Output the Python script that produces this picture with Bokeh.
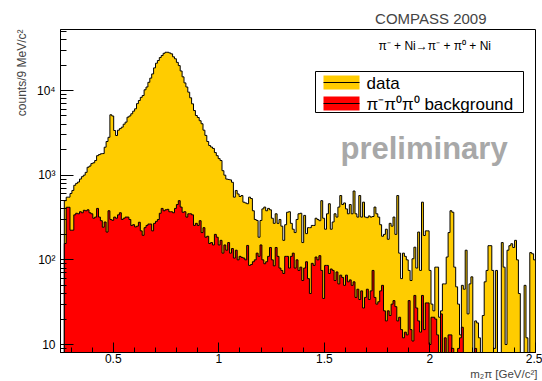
import numpy as np
from bokeh.plotting import figure
from bokeh.models import Label, FixedTicker, BoxAnnotation, Title
from bokeh.embed import file_html
from bokeh.resources import INLINE

# ---------------- data ----------------
bin_lo = 0.25
bin_width = 0.009  # 9 MeV bins, 250 bins from 0.25 to 2.5 GeV

data_counts = [0, 0,
    500, 550, 550, 608, 660, 760, 800, 830, 900, 960,
    1000, 1080, 1240, 1280, 1370, 1400, 1490, 1700, 1750, 1790,
    1800, 2140, 2500, 2800, 5170, 5000, 3370, 2940, 3400, 3550,
    3690, 4000, 4230, 4840, 5000, 5310, 5700, 6080, 7000, 7620,
    8300, 8730, 10200, 11000, 12500, 14000, 15700, 18500, 21000, 22600,
    24500, 25900, 27500, 28300, 28300, 27800, 27100, 25000, 23700, 21500,
    19700, 17000, 14500, 12300, 11000, 9560, 8200, 6960, 5800, 5070,
    4800, 4400, 4050, 3400, 2950, 2500, 2240, 2150, 2070, 1850,
    1700, 1570, 1490, 1130, 1000, 900, 890, 880, 825, 550,
    660, 600, 560, 575, 480, 470, 460, 550, 530, 380,
    300, 292, 185, 292, 400, 420, 380, 405, 390, 310,
    270, 350, 270, 300, 250, 170, 260, 365, 370, 270,
    230, 210, 300, 350, 355, 160, 335, 204, 240, 240,
    255, 255, 310, 300, 290, 500, 310, 230, 350, 460,
    230, 280, 350, 320, 420, 575, 450, 470, 400, 350,
    450, 350, 650, 350, 320, 575, 320, 480, 320, 315,
    330, 320, 325, 420, 350, 320, 260, 190, 200, 230,
    175, 270, 250, 320, 200, 575, 120, 60, 120, 110,
    100, 75, 57, 103, 141, 80, 213, 75, 480, 194,
    220, 220, 75, 30, 25, 82, 82, 21, 25, 52,
    52, 108, 210, 380, 365, 82, 48, 30, 13, 50,
    45, 130, 23, 52, 63, 0, 19, 18, 12, 0,
    22, 55, 75, 147, 147, 75, 9, 75, 0, 0,
    160, 82, 10, 130, 147, 155, 140, 170, 100, 40,
    0, 0, 50, 12, 0, 122, 118, 100]

bkg_counts = [0, 0,
    156, 418, 418, 224, 224, 340, 355, 350, 370, 360,
    385, 380, 390, 360, 350, 310, 320, 405, 320, 290,
    243, 280, 213, 380, 300, 293, 320, 310, 340, 360,
    300, 310, 320, 320, 300, 255, 260, 245, 250, 278,
    220, 195, 240, 255, 265, 265, 220, 270, 285, 300,
    355, 405, 380, 390, 395, 370, 370, 360, 405, 450,
    500, 420, 365, 370, 320, 350, 350, 340, 255, 270,
    255, 290, 210, 240, 185, 190, 156, 160, 150, 200,
    185, 150, 170, 120, 150, 130, 160, 120, 136, 105,
    130, 100, 110, 107, 105, 100, 148, 86, 88, 95,
    100, 120, 110, 150, 100, 90, 95, 110, 140, 100,
    85, 140, 110, 80, 75, 69, 110, 110, 80, 110,
    120, 80, 100, 75, 82, 57, 80, 95, 60, 40,
    91, 86, 108, 100, 112, 75, 35, 86, 86, 69,
    78, 75, 57, 72, 52, 66, 62, 50, 66, 55,
    58, 50, 55, 36, 45, 34, 43, 27, 36, 45,
    34, 43, 75, 36, 30, 32, 43, 50, 25, 19,
    25, 22, 30, 33, 28, 19, 21, 15, 12, 14,
    13, 33, 15, 11, 38, 27, 19, 14, 38, 15,
    31, 31, 10, 21, 21, 20, 13, 0, 23, 0,
    12, 0, 13, 13, 9, 0, 0, 9, 12, 16,
    8, 0, 0, 0, 0, 0, 9, 0, 0, 0,
    0, 0, 0, 0, 0, 0, 0, 0, 0, 0,
    0, 0, 0, 0, 0, 0, 0, 0, 0, 0,
    0, 0, 0, 0, 0, 0, 0, 0]

x_ticks = [0.5, 1, 1.5, 2, 2.5]
x_tick_labels = ["0.5", "1", "1.5", "2", "2.5"]
y_ticks = [10, 100, 1000, 10000]
y_tick_labels = ["10", "10²", "10³", "10⁴"]

legend_labels = ["data", "π⁻π⁰π⁰ background"]
title_text = "COMPASS 2009"
reaction_text = "π⁻ + Ni→π⁻ + π⁰ + Ni"
watermark = "preliminary"
x_title = "m₂π [GeV/c²]"
y_title = "counts/9 MeV/c²"

# ---------------- layout ----------------
W, H = 542, 381
FL, FR, FT, FB = 60, 535, 29, 352      # frame in pixels
X0, X1 = 0.25, 2.5
Y0, Y1 = 8.05, 52550.0
YELLOW = "#ffcc00"
RED = "#ff0000"
FONT = "Liberation Sans"

def px_x(X):
    return X0 + (X - FL) * (X1 - X0) / (FR - FL)

def px_y(Y):
    l0, l1 = np.log10(Y0), np.log10(Y1)
    return 10 ** (l0 + (FB - Y) * (l1 - l0) / (FB - FT))

p = figure(width=W, height=H, x_range=(X0, X1), y_range=(Y0, Y1),
           y_axis_type="log", output_backend="svg", toolbar_location=None,
           min_border_left=FL, min_border_right=W - FR,
           min_border_top=FT, min_border_bottom=H - FB)
p.xgrid.visible = False
p.ygrid.visible = False
p.background_fill_color = "white"
p.border_fill_color = "white"
p.outline_line_color = "black"
p.outline_line_width = 1

# top title
p.title.text = title_text
p.title.align = "right"
p.title.offset = 49
p.title.text_font = FONT
p.title.text_font_size = "15px"
p.title.text_font_style = "normal"
p.title.standoff = 6

# ---------------- histograms ----------------
n = len(data_counts)
edges = bin_lo + bin_width * np.arange(n + 1)
floor = 1.0

def step_path(counts):
    xs = [edges[0]]
    ys = [floor]
    for k, c in enumerate(counts):
        v = c if c > 0 else floor
        xs += [edges[k], edges[k + 1]]
        ys += [v, v]
    xs.append(edges[-1])
    ys.append(floor)
    return xs, ys

dx, dy = step_path(data_counts)
bx, by = step_path(bkg_counts)

p.patch(dx, dy, fill_color=YELLOW, line_color=None)
p.line(dx, dy, line_color="black", line_width=1)
p.patch(bx, by, fill_color=RED, line_color=None)
p.line(bx, by, line_color="black", line_width=1)

# ---------------- axes ----------------
xminor = [round(0.3 + 0.1 * i, 2) for i in range(22)
          if round(0.3 + 0.1 * i, 2) not in (0.5, 1.0, 1.5, 2.0, 2.5)]
p.xaxis.ticker = FixedTicker(ticks=x_ticks, minor_ticks=xminor)
p.xaxis.major_label_overrides = {t: l for t, l in zip(x_ticks, x_tick_labels)}
yminor = [m * 10 ** e for e in range(0, 5) for m in range(2, 10) if m * 10 ** e < Y1]
p.yaxis.ticker = FixedTicker(ticks=y_ticks, minor_ticks=yminor)
p.yaxis.major_label_overrides = {t: l for t, l in zip(y_ticks, y_tick_labels)}

for ax, tin, standoff in ((p.xaxis[0], 10, 1), (p.yaxis[0], 13, 5)):
    ax.major_tick_out = 0
    ax.minor_tick_out = 0
    ax.major_tick_in = tin
    ax.minor_tick_in = tin // 2
    ax.axis_line_color = "black"
    ax.major_tick_line_color = "black"
    ax.minor_tick_line_color = "black"
    ax.major_label_text_font = FONT
    ax.major_label_text_font_size = "12px"
    ax.major_label_text_color = "black"
    ax.major_label_standoff = standoff

# axis titles as side titles (right-aligned, ROOT style)
yt = Title(text=y_title, align="right", text_font=FONT, text_font_size="12px",
           text_font_style="normal", standoff=10, offset=0)
p.add_layout(yt, "left")
xt = Title(text=x_title, align="right", text_font=FONT, text_font_size="11.5px",
           text_font_style="normal", standoff=0, offset=-2)
p.add_layout(xt, "below")

# ---------------- legend (box + swatches) ----------------
def add_box(Xl, Xr, Yt, Yb, fill, line=None):
    b = BoxAnnotation(left=px_x(Xl), right=px_x(Xr), top=px_y(Yt), bottom=px_y(Yb),
                      fill_color=fill, fill_alpha=1.0,
                      line_color=line, line_width=1, line_alpha=1.0 if line else 0.0,
                      editable=False)
    p.add_layout(b)
    return b

add_box(315, 523, 71, 112, "white", "black")
sw = [(75, 89, YELLOW), (96, 110, RED)]
for (t, b, col) in sw:
    add_box(323, 359, t, b, col)
    mid = 0.5 * (t + b)
    add_box(323, 359, mid - 0.5, mid + 0.5, "black")

# ---------------- texts inside the frame ----------------
def add_label(X, Y, text, size, align="left", baseline="alphabetic",
              bold=False, color="black"):
    lab = Label(x=px_x(X), y=px_y(Y), text=text, text_font=FONT,
                text_font_size=f"{size}px", text_align=align,
                text_baseline=baseline, text_color=color,
                text_font_style="bold" if bold else "normal")
    p.add_layout(lab)
    return lab

for (t, b, col), lab in zip(sw, legend_labels):
    add_label(366, 0.5 * (t + b) + 1, lab, 17, baseline="middle")

add_label(378, 45, reaction_text, 12)
add_label(340, 148, watermark, 31, bold=True, color="#a8a8a8")

open("out.html", "w").write(file_html(p, INLINE))
